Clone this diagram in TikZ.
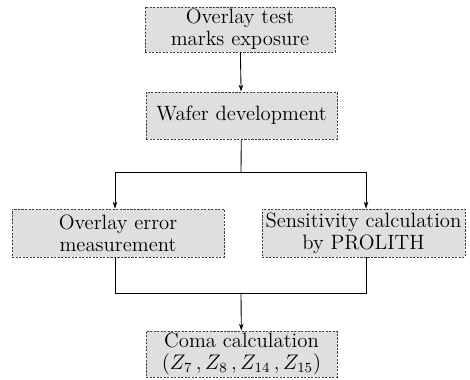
\documentclass[tikz,border=0pt]{standalone}
\usepackage{tikz}
\usetikzlibrary{arrows.meta, positioning, calc}

\begin{document}
\begin{tikzpicture}[
  every node/.style={font=\fontsize{11.8}{12.6}\selectfont},
  stepbox/.style={rectangle, draw=black!75, dash pattern=on 1.2pt off 0.8pt, line width=0.45pt, fill=gray!25, align=center, inner sep=1pt},
  arr/.style={-{Stealth[length=4pt, width=2.6pt]}, line width=0.5pt},
  ln/.style={line width=0.5pt},
]
  \useasboundingbox (0,0) rectangle (9.4,-7.6);

  \node[stepbox,minimum width=3.8cm,minimum height=0.9cm] (expo) at (4.80,-0.59) {Overlay test\\marks exposure};
  \node[stepbox,minimum width=3.82cm,minimum height=0.94cm] (wafer) at (4.83,-2.31) {Wafer development};
  \node[stepbox,minimum width=4.24cm,minimum height=0.96cm] (meas) at (2.36,-4.66) {Overlay error\\measurement};
  \node[stepbox,minimum width=4.06cm,minimum height=0.96cm] (sens) at (7.27,-4.66) {Sensitivity calculation\\by PROLITH};
  \node[stepbox,minimum width=3.82cm,minimum height=0.92cm] (coma) at (4.83,-7.08) {Coma calculation\\$(Z_7\,, Z_8\,, Z_{14}\,, Z_{15})$};

  \coordinate (split) at (4.82,-3.44);
  \coordinate (merge) at (4.82,-5.86);

  \draw[arr] (expo) -- (wafer);
  \draw[ln] (wafer) -- (split);
  \draw[arr] (split) -| ([xshift=-0.06cm]meas.north);
  \draw[arr] (split) -| ([xshift=0.05cm]sens.north);
  \draw[ln] ([xshift=-0.06cm]meas.south) |- (merge);
  \draw[ln] ([xshift=0.05cm]sens.south) |- (merge);
  \draw[arr] (merge) -- (coma);
\end{tikzpicture}
\end{document}
